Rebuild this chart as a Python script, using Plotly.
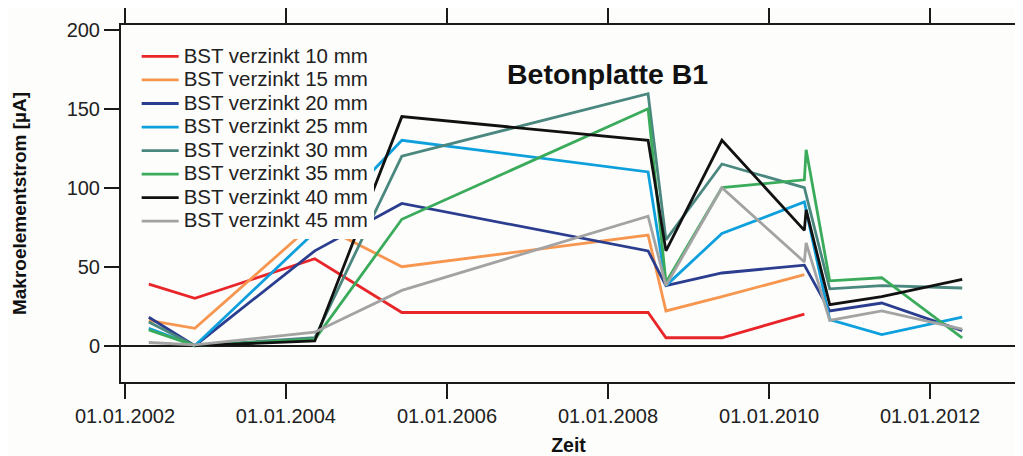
import plotly.graph_objects as go

dates = ["2002-04-19", "2002-11-14", "2004-05-11", "2005-06-10", "2008-07-01",
         "2008-09-20", "2009-06-01", "2010-06-10", "2010-06-18", "2010-10-03",
         "2011-05-27", "2012-05-26"]

s10 = [39, 30, 55, 21, 21, 5, 5, 20, None, None, None, None]
s15 = [16, 11, 78, 50, 70, 22, 31, 45, None, None, None, None]
s20 = [18, 0, 60, 90, 60, 38, 46, 51, None, 22, 27, 9.5]
s25 = [11, 0, 72, 130, 110, 38, 71, 91, None, 16.5, 7, 18]
s30 = [15, 0, 5, 120, 159.5, 67, 115, 100, None, 36, 38, 36.5]
s35 = [10, 0, 4, 80, 150, 40, 100, 105, 124, 41, 43, 5]
s40 = [None, 0, 3, 145, 130, 60, 130, 73, 86, 26, 31, 42]
s45 = [2, 0.5, 8.5, 35, 82, 38, 100, 53, 65, 16, 22, 10.5]

names = ["BST verzinkt 10 mm", "BST verzinkt 15 mm", "BST verzinkt 20 mm",
         "BST verzinkt 25 mm", "BST verzinkt 30 mm", "BST verzinkt 35 mm",
         "BST verzinkt 40 mm", "BST verzinkt 45 mm"]
series = [s10, s15, s20, s25, s30, s35, s40, s45]
colors = ["#e8262a", "#f7964f", "#2b3d8f", "#0ea0dc", "#4a877e", "#3aab5a",
          "#111111", "#a3a3a3"]

FONT = "Liberation Sans, Arial, sans-serif"

fig = go.Figure()
for n, s, c in zip(names, series, colors):
    fig.add_trace(go.Scatter(x=dates, y=s,
                             name='<span style="font-size:20.5px">' + n + '</span>',
                             mode="lines", line=dict(color=c, width=2.8),
                             connectgaps=True))

fig.add_annotation(text="Betonplatte B1", xref="paper", yref="paper",
                   x=0.5436, y=0.913, showarrow=False,
                   font=dict(family=FONT, size=28.5, color="#111", weight="bold"))

axis_common = dict(showline=True, linecolor="#1a1a1a", linewidth=2,
                   mirror="ticks", ticks="outside", ticklen=15, tickwidth=1.6,
                   tickcolor="#1a1a1a", showgrid=False, automargin=False,
                   tickfont=dict(family=FONT, size=20, color="#222"))

fig.update_xaxes(type="date", range=["2001-12-14", "2013-01-25"],
                 tick0="2002-01-01", dtick="M24", tickformat="%d.%m.%Y",
                 title=dict(text="Zeit", standoff=15,
                            font=dict(family=FONT, size=19.5, color="#111", weight="bold")),
                 zeroline=False, **axis_common)
fig.update_yaxes(range=[-23, 203], tickvals=[0, 50, 100, 150, 200],
                 zeroline=True, zerolinecolor="#1a1a1a", zerolinewidth=1.8,
                 title=dict(text="Makroelementstrom [µA]", standoff=35,
                            font=dict(family=FONT, size=19, color="#111", weight="bold")),
                 **axis_common)

fig.update_layout(
    width=1015, height=448,
    margin=dict(l=113, r=7, t=17, b=74, autoexpand=False),
    paper_bgcolor="#fdfdfc", plot_bgcolor="#fdfdfc",
    showlegend=True,
    legend=dict(x=0.0175, y=0.959, xanchor="left", yanchor="top",
                bgcolor="#fdfdfc", borderwidth=0, itemwidth=37,
                font=dict(family=FONT, size=15.8, color="#222"),
                tracegroupgap=0),
)

fig.write_html("out.html")
